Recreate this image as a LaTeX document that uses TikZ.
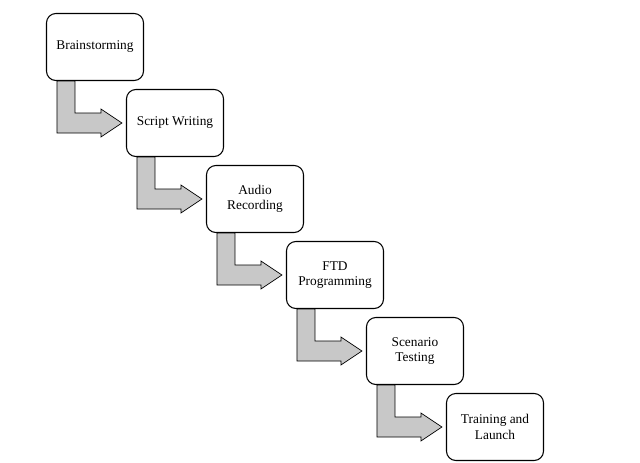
\documentclass[tikz,border=0pt]{standalone}
\usepackage{fontspec}
\setmainfont{Liberation Serif}
\usepackage{tikz}
\usetikzlibrary{positioning, calc}
\definecolor{arrGray}{RGB}{200, 200, 200}

% L-shaped block arrow from the bottom of one box to the left side of the next
\newcommand{\stepArrow}[2]{%
    \coordinate (s) at ($(#1.south west)+(11,0)$);
    \coordinate (t) at ($(#2.west)+(-4,0)$);
    \draw[blk] (s) -- ++(18,0) |- ($(t)+(-21,-10)$) -- ++(0,-4) -- (t)
        -- ++(-21,14) -- ++(0,-4) -| (s) -- cycle;
}

\begin{document}
\begin{tikzpicture}[
        x=0.03cm, y=-0.03cm,
        font=\fontsize{11.4}{13}\selectfont,
        stage/.style={rectangle, rounded corners=8pt, draw, line width=0.9pt, fill=white,
            align=center, minimum width=2.91cm, minimum height=2.01cm, inner sep=2pt},
        blk/.style={fill=arrGray, draw=black, line width=0.6pt, line join=miter}
    ]
    \useasboundingbox (0,0) rectangle (640,462);
    \node[stage] (brain) at (95,47) {Brainstorming};
    \node[stage] (script) at (175,123) {Script Writing};
    \node[stage] (audio) at (255,199) {Audio\\Recording};
    \node[stage] (ftd) at (335,275) {FTD\\Programming};
    \node[stage] (test) at (415,351) {Scenario\\Testing};
    \node[stage] (launch) at (495,427) {Training and\\Launch};
    \stepArrow{brain}{script}
    \stepArrow{script}{audio}
    \stepArrow{audio}{ftd}
    \stepArrow{ftd}{test}
    \stepArrow{test}{launch}
\end{tikzpicture}
\end{document}
